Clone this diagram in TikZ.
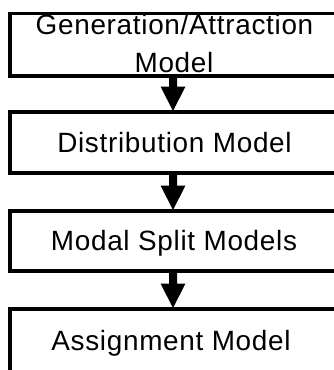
\documentclass[tikz,border=0pt]{standalone}
\usepackage{fontspec}
\setmainfont{Liberation Sans}[LetterSpace=2.5]
\usetikzlibrary{calc}
\begin{document}
\begin{tikzpicture}[x=1bp,y=-1bp,
  box/.style={line width=3.5bp},
  lbl/.style={anchor=base,inner sep=0pt,font=\fontsize{28}{32}\selectfont},
  flow/.style={fill=black}]
\useasboundingbox (0,0) rectangle (334,370);
\clip (0,0) rectangle (334,370);
% boxes
\draw[box] (345,13.5) -- (10,13.5) -- (10,76) -- (345,76);
\draw[box] (345,112) -- (10,112) -- (10,173) -- (345,173);
\draw[box] (345,211) -- (10,211) -- (10,271) -- (345,271);
\draw[box] (345,309) -- (10,309) -- (10,380);
% labels
\node[lbl] (t1a) at (174.5,34.7) {Generation/Attraction};
\node[lbl] (t1b) at (174,72.7) {Model};
\node[lbl] (t2) at (174.5,152.5) {Distribution Model};
\node[lbl] (t3) at (174,250.7) {Modal Split Models};
\node[lbl] (t4) at (171,350.7) {Assignment Model};
% arrow anchors
\coordinate (a1) at (173,76);
\coordinate (b1) at (173,111);
\coordinate (a2) at (173,173);
\coordinate (b2) at (173,210);
\coordinate (a3) at (173,271);
\coordinate (b3) at (173,308);
\foreach \s/\e in {a1/b1,a2/b2,a3/b3}{
  \fill[flow] ($(\s)+(-4,0)$) -- ($(\s)+(4,0)$) -- ($(\e)+(4,-24.5)$) -- ($(\e)+(12.5,-24.5)$) -- (\e) -- ($(\e)+(-12.5,-24.5)$) -- ($(\e)+(-4,-24.5)$) -- cycle;
}
\end{tikzpicture}
\end{document}
